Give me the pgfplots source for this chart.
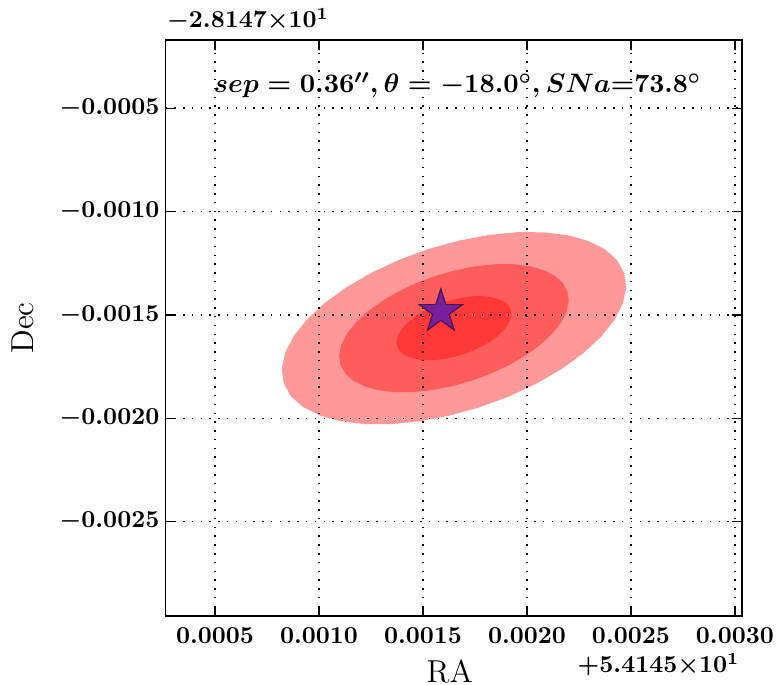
\documentclass[border=0pt]{standalone}
\usepackage{pgfplots}
\pgfplotsset{compat=1.18}
\usepackage{pgfplotstable}

\definecolor{starfill}{RGB}{118,32,156}
\definecolor{staredge}{RGB}{75,20,85}

\pgfdeclareplotmark{fstar}{%
  \pgfpathmoveto{\pgfpointpolar{90}{\pgfplotmarksize}}%
  \pgfpathlineto{\pgfpointpolar{126}{0.382\pgfplotmarksize}}%
  \pgfpathlineto{\pgfpointpolar{162}{\pgfplotmarksize}}%
  \pgfpathlineto{\pgfpointpolar{198}{0.382\pgfplotmarksize}}%
  \pgfpathlineto{\pgfpointpolar{234}{\pgfplotmarksize}}%
  \pgfpathlineto{\pgfpointpolar{270}{0.382\pgfplotmarksize}}%
  \pgfpathlineto{\pgfpointpolar{306}{\pgfplotmarksize}}%
  \pgfpathlineto{\pgfpointpolar{342}{0.382\pgfplotmarksize}}%
  \pgfpathlineto{\pgfpointpolar{18}{\pgfplotmarksize}}%
  \pgfpathlineto{\pgfpointpolar{54}{0.382\pgfplotmarksize}}%
  \pgfpathclose
  \pgfusepathqfillstroke
}

% 1-sigma ellipse outline, offsets from the centre (angle 18 deg)
\pgfplotstableread{
dx dy
0.00027295 0.00008869
0.00026161 0.00010947
0.00024233 0.00012693
0.00021567 0.00014053
0.00018247 0.00014986
0.00014373 0.00015463
0.00010062 0.00015472
0.00005444 0.00015008
0.00000662 0.00014090
-0.00004141 0.00012744
-0.00008818 0.00011010
-0.00013226 0.00008942
-0.00017234 0.00006602
-0.00020717 0.00004061
-0.00023571 0.00001398
-0.00025709 -0.00001309
-0.00027065 -0.00003975
-0.00027599 -0.00006521
-0.00027295 -0.00008869
-0.00026161 -0.00010947
-0.00024233 -0.00012693
-0.00021567 -0.00014053
-0.00018247 -0.00014986
-0.00014373 -0.00015463
-0.00010062 -0.00015472
-0.00005444 -0.00015008
-0.00000662 -0.00014090
0.00004141 -0.00012744
0.00008818 -0.00011010
0.00013226 -0.00008942
0.00017234 -0.00006602
0.00020717 -0.00004061
0.00023571 -0.00001398
0.00025709 0.00001309
0.00027065 0.00003975
0.00027599 0.00006521
0.00027295 0.00008869
}\ellone

\pgfplotstableread{
x y
0.001586 -0.001484
}\starpos

\begin{document}
\begin{tikzpicture}
\begin{axis}[
  scale only axis,
  width=236.4pt, height=236.2pt,
  xmin=0.000262, xmax=0.003034,
  ymin=-0.002956, ymax=-0.00017,
  clip=false,
  axis on top,
  axis line style={line width=0.8pt},
  xtick={0.0005,0.001,0.0015,0.002,0.0025,0.003},
  ytick={-0.0025,-0.002,-0.0015,-0.001,-0.0005},
  scaled ticks=false,
  tick align=inside,
  major tick length=4pt,
  tick style={line width=0.5pt, black},
  tick label style={font=\boldmath},
  xticklabel style={yshift=-1.5pt, /pgf/number format/fixed, /pgf/number format/precision=4, /pgf/number format/fixed zerofill},
  yticklabel style={xshift=1pt, /pgf/number format/fixed, /pgf/number format/precision=4, /pgf/number format/fixed zerofill},
  grid=major,
  grid style={black, line width=0.6pt, dash pattern=on 0.6pt off 3pt},
]
\addplot[draw=none, fill=red, fill opacity=0.4]
  table[x expr=0.001649+3*\thisrow{dx}, y expr=-0.001564+3*\thisrow{dy}] {\ellone};
\addplot[draw=none, fill=red, fill opacity=0.4]
  table[x expr=0.001649+2*\thisrow{dx}, y expr=-0.001564+2*\thisrow{dy}] {\ellone};
\addplot[draw=none, fill=red, fill opacity=0.4]
  table[x expr=0.001649+\thisrow{dx}, y expr=-0.001564+\thisrow{dy}] {\ellone};
\addplot[only marks, mark=fstar, mark size=9.3pt,
  mark options={fill=starfill, draw=staredge, line width=0.5pt}]
  table[x=x, y=y] {\starpos};

\node[anchor=base, font=\fontsize{10.75}{13}\selectfont\boldmath] at (rel axis cs:0.5065,0.908)
  {$sep = 0.36'', \theta = -18.0^\circ, SNa$\textbf{=73.8}$^\circ$};
\node[anchor=base west, inner sep=0pt, font=\fontsize{10.3}{13}\selectfont\boldmath] at (rel axis cs:0.002,1.0208)
  {$-2.8147{\times}10^{1}$};
\node[anchor=base east, inner sep=0pt, font=\fontsize{10.3}{13}\selectfont\boldmath] at (rel axis cs:0.9965,-0.099)
  {$+5.4145{\times}10^{1}$};
\node[anchor=base, inner sep=0pt, font=\fontsize{13}{15}\selectfont] at (rel axis cs:0.493,-0.1155) {RA};
\node[anchor=base, inner sep=0pt, rotate=90, font=\fontsize{13}{15}\selectfont] at (rel axis cs:-0.229,0.5) {Dec};
\coordinate (bbsw) at (rel axis cs:-0.2871,-0.1198);
\coordinate (bbne) at (rel axis cs:1.059,1.0694);
\end{axis}
\pgfresetboundingbox
\path[use as bounding box] (bbsw) rectangle (bbne);
\end{tikzpicture}
\end{document}
